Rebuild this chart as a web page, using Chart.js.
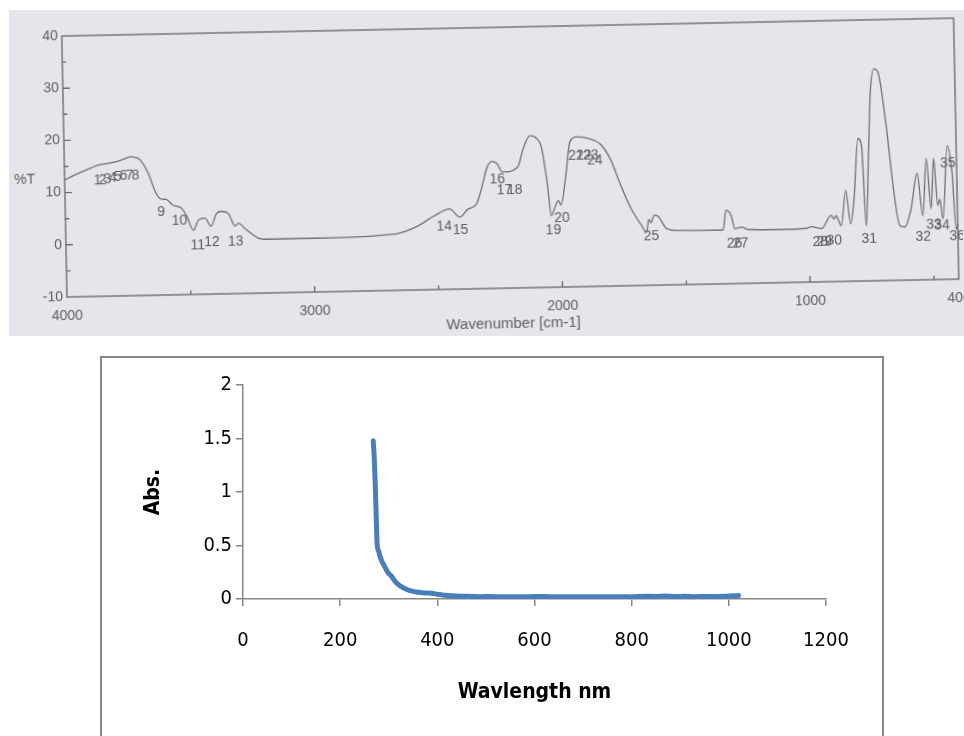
<!DOCTYPE html>
<html lang="en">
<head>
<meta charset="UTF-8">
<title>IR and UV-Vis spectra</title>
<script src="https://cdn.jsdelivr.net/npm/chart.js"></script>
<style>
    html, body { margin: 0; padding: 0; background: #fff; overflow: hidden; }
    body { width: 964px; height: 736px; position: relative; }
    .scan { position: absolute; left: 9px; top: 10px; width: 955px; height: 326px; background: #e6e5eb; }
    #irChart { position: absolute; left: 0; top: 0; transform-origin: 67px 297px; transform: rotate(-1.15deg); }
    .uvBox { position: absolute; left: 100px; top: 356px; width: 780px; height: 420px; border: 2px solid #898989; border-bottom: none; }
    #uvChart { position: absolute; left: 0; top: 0; }
</style>
</head>
<body>
<div class="scan"></div>
<canvas id="irChart" width="964" height="350" style="width:964px;height:350px"></canvas>
<div class="uvBox">
    <canvas id="uvChart" width="780" height="378" style="width:780px;height:378px"></canvas>
</div>

<script>
// IR spectrum (top), wavenumber in cm-1 and %T
const irWavenumber = [
    4000, 3961, 3894, 3867, 3827, 3793, 3759, 3733, 3699, 3665,
    3632, 3612, 3592, 3565, 3531, 3511, 3484, 3464, 3437, 3413,
    3390, 3370, 3343, 3316, 3302, 3276, 3222, 3200, 3000, 2800,
    2700, 2657, 2577, 2509, 2449, 2408, 2375, 2342, 2321, 2294,
    2274, 2254, 2234, 2207, 2187, 2167, 2147, 2120, 2093, 2073,
    2052, 2039, 2026, 2009, 1999, 1979, 1958, 1931, 1878, 1837,
    1797, 1757, 1716, 1676, 1656, 1646, 1638, 1624, 1609, 1575,
    1528, 1347, 1334, 1313, 1300, 1273, 1246, 1125, 1010, 991,
    950, 910, 899, 890, 870, 849, 832, 816, 796, 782,
    769, 755, 742, 725, 709, 681, 655, 634, 614, 587,
    560, 540, 522, 506, 492, 479, 470, 459, 436, 419,
    406, 400
];
const irTransmittance = [
    12.4, 13.3, 14.6, 15.1, 15.4, 15.7, 16.2, 16.6, 16.2, 13.7,
    9.5, 8.4, 8.3, 7.2, 6.6, 5.1, 2.3, 4.2, 4.6, 3.0,
    5.4, 5.8, 5.4, 3.0, 3.5, 2.4, 0.5, 0.3, 0.3, 0.4,
    0.7, 0.9, 2.3, 4.2, 5.4, 3.8, 5.3, 6.1, 8.8, 13.3,
    14.3, 13.9, 12.3, 12.3, 12.6, 13.5, 16.7, 19.1, 18.6, 16.7,
    9.5, 3.7, 5.0, 6.6, 5.7, 10.8, 17.8, 18.7, 18.3, 17.3,
    14.4, 9.3, 4.7, 1.5, 0.2, 2.6, 2.0, 3.4, 3.2, 0.8,
    0.4, 0.3, 4.1, 3.0, 0.5, 0.8, 0.3, 0.2, 0.3, 0.6,
    0.2, 2.7, 2.0, 2.6, 0.7, 7.4, 1.0, 5.8, 17.3, 16.0,
    0.6, 13.4, 26.3, 30.6, 29.8, 19.7, 6.9, 0.5, 0.2, 3.6,
    10.4, 2.3, 13.2, 3.6, 13.2, 4.2, 5.4, 1.6, 15.6, 10.6,
    -0.5, 0.5
];
const irXTicks = [4000, 3000, 2000, 1000, 400];
const irYTicks = [-10, 0, 10, 20, 30, 40];

// peak numbers printed by the instrument, placed at (wavenumber, %T)
const irPeakLabels = ['1', '2', '3', '4', '5', '6', '7', '8', '9', '10', '11', '12',
    '13', '14', '15', '16', '17', '18', '19', '20', '21', '22', '23', '24',
    '25', '26', '27', '28', '29', '30', '31', '32', '33', '34', '35', '36'];
const irPeakWn = [3867, 3847, 3827, 3806, 3786, 3762, 3738, 3714, 3613, 3540, 3468, 3411,
    3315, 2472, 2407, 2254, 2226, 2185, 2032, 1996, 1935, 1903, 1875, 1859,
    1637, 1302, 1278, 956, 940, 899, 758, 540, 496, 464, 435, 403];
const irPeakT = [12.2, 12.1, 12.3, 12.5, 12.7, 12.9, 13.0, 13.0, 5.8, 4.2, -0.7, 0.0,
    -0.1, 2.0, 1.2, 10.8, 8.7, 8.7, 0.8, 3.1, 15.1, 15.1, 15.1, 14.1,
    -0.7, -2.4, -2.4, -2.3, -2.3, -2.2, -1.9, -1.8, 0.5, 0.3, 12.2, -1.7];

// UV-Vis spectrum (bottom)
const uvWavelength = [
    268, 270, 272, 274, 276, 279, 282, 286, 292, 298,
    306, 314, 320, 326, 334, 342, 354, 366, 378, 388,
    400, 415, 430, 450, 470, 490, 510, 530, 550, 570,
    590, 610, 630, 650, 670, 690, 710, 730, 750, 770,
    790, 810, 830, 850, 870, 890, 910, 930, 950, 970,
    990, 1010, 1020
];
const uvAbs = [
    1.48, 1.33, 1.10, 0.80, 0.52, 0.45, 0.40, 0.35, 0.30, 0.25,
    0.21, 0.16, 0.135, 0.115, 0.095, 0.08, 0.068, 0.06, 0.056, 0.053,
    0.045, 0.035, 0.03, 0.026, 0.024, 0.022, 0.023, 0.021, 0.02, 0.022,
    0.021, 0.024, 0.022, 0.021, 0.02, 0.022, 0.021, 0.02, 0.022, 0.021,
    0.02, 0.023, 0.026, 0.024, 0.027, 0.023, 0.025, 0.022, 0.024, 0.023,
    0.025, 0.03, 0.032
];

const scanGray = '#5e5e5e';
const scanFont = '"Liberation Sans", Arial, sans-serif';
const uvFont = '"DejaVu Sans Condensed", "Liberation Sans Narrow", sans-serif';

// frame, inner tick marks, peak numbers and %T label of the scanned chart
const irFrame = {
    id: 'irFrame',
    afterDatasetsDraw(chart) {
        const { ctx, chartArea: a, scales: { x, y } } = chart;
        ctx.save();
        ctx.strokeStyle = '#6e6e6e';
        ctx.lineWidth = 1.4;
        ctx.strokeRect(a.left, a.top, a.right - a.left, a.bottom - a.top);
        ctx.beginPath();
        for (let v = -5; v < 40; v += 5) {
            const py = y.getPixelForValue(v);
            ctx.moveTo(a.left, py);
            ctx.lineTo(a.left + (v % 10 === 0 ? 7 : 4), py);
        }
        for (let w = 3500; w >= 500; w -= 500) {
            const px = x.getPixelForValue(w);
            ctx.moveTo(px, a.bottom);
            ctx.lineTo(px, a.bottom - (w % 1000 === 0 ? 6 : 4));
        }
        ctx.stroke();
        ctx.fillStyle = scanGray;
        ctx.font = '14px ' + scanFont;
        ctx.textAlign = 'center';
        ctx.textBaseline = 'middle';
        irPeakLabels.forEach((t, i) => {
            ctx.fillText(t, x.getPixelForValue(irPeakWn[i]), y.getPixelForValue(irPeakT[i]));
        });
        ctx.fillText('%T', a.left - 40, y.getPixelForValue(12.6));
        ctx.restore();
    }
};

new Chart(document.getElementById('irChart'), {
    type: 'line',
    data: {
        datasets: [{
            data: irWavenumber.map((w, i) => ({ x: w, y: irTransmittance[i] })),
            borderColor: '#707070',
            borderWidth: 1.3,
            pointRadius: 0,
            cubicInterpolationMode: 'monotone',
            fill: false
        }]
    },
    options: {
        responsive: false,
        animation: false,
        devicePixelRatio: 1,
        layout: { padding: { left: 0, right: 5, top: 36, bottom: 8 } },
        plugins: { legend: { display: false }, tooltip: { enabled: false } },
        scales: {
            x: {
                type: 'linear',
                reverse: true,
                min: 400,
                max: 4000,
                afterBuildTicks: s => { s.ticks = irXTicks.map(v => ({ value: v })); },
                afterFit: s => { s.height = 45; s.paddingLeft = 0; s.paddingRight = 0; },
                grid: { display: false, drawTicks: false },
                border: { display: false },
                ticks: {
                    autoSkip: false, maxRotation: 0, padding: 11, color: scanGray,
                    font: { family: scanFont, size: 14 },
                    callback: v => String(v)
                },
                title: {
                    display: true, text: 'Wavenumber [cm-1]', color: scanGray,
                    font: { family: scanFont, size: 15 }, padding: 0
                }
            },
            y: {
                min: -10,
                max: 40,
                afterBuildTicks: s => { s.ticks = irYTicks.map(v => ({ value: v })); },
                afterFit: s => { s.width = 67; },
                grid: { display: false, drawTicks: false },
                border: { display: false },
                ticks: {
                    padding: 4, color: scanGray,
                    font: { family: scanFont, size: 14 },
                    callback: v => String(v)
                }
            }
        }
    },
    plugins: [irFrame]
});

new Chart(document.getElementById('uvChart'), {
    type: 'line',
    data: {
        datasets: [{
            data: uvWavelength.map((w, i) => ({ x: w, y: uvAbs[i] })),
            borderColor: '#4a7ebb',
            borderWidth: 5,
            pointRadius: 0,
            borderCapStyle: 'round',
            borderJoinStyle: 'round',
            cubicInterpolationMode: 'monotone',
            fill: false
        }]
    },
    options: {
        responsive: false,
        animation: false,
        devicePixelRatio: 1,
        layout: { padding: { left: 0, right: 56, top: 27, bottom: 0 } },
        plugins: { legend: { display: false }, tooltip: { enabled: false } },
        scales: {
            x: {
                type: 'linear',
                min: 0,
                max: 1200,
                afterFit: s => { s.height = 137; },
                grid: { drawOnChartArea: false, tickLength: 7, color: '#868686', lineWidth: 1.5 },
                border: { color: '#868686', width: 1.5 },
                ticks: {
                    stepSize: 200, maxRotation: 0, padding: 23, color: '#000',
                    font: { family: uvFont, size: 20 },
                    callback: v => String(v)
                },
                title: {
                    display: true, text: 'Wavlength nm', color: '#000',
                    font: { family: uvFont, size: 21, weight: 'bold' },
                    padding: { top: 0, bottom: 31 }
                }
            },
            y: {
                min: 0,
                max: 2,
                afterFit: s => { s.width = 141; },
                grid: { drawOnChartArea: false, tickLength: 7, color: '#868686', lineWidth: 1.5 },
                border: { color: '#868686', width: 1.5 },
                ticks: {
                    stepSize: 0.5, padding: 4, color: '#000',
                    font: { family: uvFont, size: 20 },
                    callback: v => String(v)
                },
                title: {
                    display: true, text: 'Abs.', color: '#000',
                    font: { family: uvFont, size: 21, weight: 'bold' },
                    padding: { top: 39, bottom: 0 }
                }
            }
        }
    }
});
</script>
</body>
</html>
